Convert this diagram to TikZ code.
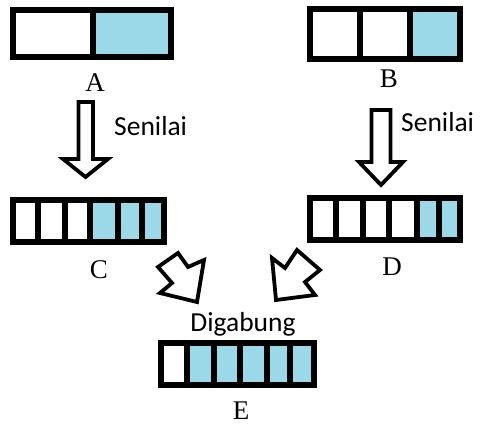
\documentclass[tikz,border=0pt]{standalone}
\usepackage{fontspec}
\setmainfont{Liberation Serif}
\newfontfamily\calib{Carlito}
\definecolor{cellblue}{RGB}{155,216,232}
\begin{document}
\begin{tikzpicture}[x=1pt,y=-1pt,
  barframe/.style={draw=black,line width=6.5pt,fill=none,line join=miter},
  divline/.style={draw=black,line width=5.5pt},
  bluecell/.style={fill=cellblue},
  blockarrow/.style={draw=black,line width=3.8pt,fill=white,line join=miter},
  letter/.style={font=\fontsize{27}{29}\selectfont,inner sep=0pt},
  word/.style={font=\calib\fontsize{27.5}{29}\selectfont,inner sep=0pt,anchor=base west}]
\useasboundingbox (0,0) rectangle (483,425);
% ---------- bar A
\fill[bluecell] (93,10) rectangle (171,57);
\draw[divline] (93,10) -- (93,57);
\node[barframe,minimum width=158pt,minimum height=47pt,inner sep=0pt] (barA) at (92,33.5) {};
\node[letter] (labA) at (95,83) {A};
% ---------- bar B
\fill[bluecell] (410,9) rectangle (460,59);
\draw[divline] (360,9) -- (360,59) (410,9) -- (410,59);
\node[barframe,minimum width=150pt,minimum height=50pt,inner sep=0pt] (barB) at (385,34) {};
\node[letter] (labB) at (389,79) {B};
% ---------- bar C
\fill[bluecell] (90,200) rectangle (164,242);
\draw[divline] (38,200) -- (38,242) (65,200) -- (65,242) (90,200) -- (90,242)
  (118,200) -- (118,242) (142,200) -- (142,242);
\node[barframe,minimum width=151pt,minimum height=42pt,inner sep=0pt] (barC) at (88.5,221) {};
\node[letter] (labC) at (99,270) {C};
% ---------- bar D
\fill[bluecell] (417,198) rectangle (460,240);
\draw[divline] (336,198) -- (336,240) (363,198) -- (363,240) (389,198) -- (389,240)
  (417,198) -- (417,240) (439,198) -- (439,240);
\node[barframe,minimum width=150pt,minimum height=42pt,inner sep=0pt] (barD) at (385,219) {};
\node[letter] (labD) at (392,267) {D};
% ---------- bar E
\fill[bluecell] (187,343) rectangle (314,385);
\draw[divline] (187,343) -- (187,385) (214,343) -- (214,385) (240,343) -- (240,385)
  (267,343) -- (267,385) (290,343) -- (290,385);
\node[barframe,minimum width=153pt,minimum height=42pt,inner sep=0pt] (barE) at (237.5,364) {};
\node[letter] (labE) at (241,411) {E};
% ---------- arrows
\draw[blockarrow] (78.5,102) -- (93,102) -- (93,159) -- (108,159) -- (85.5,177)
  -- (63,159) -- (78.5,159) -- cycle;
\node[word] (senA) at (114,136) {Senilai};
\draw[blockarrow] (371.5,110) -- (390.5,110) -- (390.5,162) -- (403,162) -- (381,185)
  -- (359,162) -- (371.5,162) -- cycle;
\node[word] (senB) at (401,132) {Senilai};
\draw[blockarrow] (158,267) -- (178,253) -- (188,267) -- (204,260) -- (197,302)
  -- (160,293) -- (172,283) -- cycle;
\draw[blockarrow] (297,250) -- (320,270) -- (305,282) -- (315,295) -- (276,300)
  -- (272,258) -- (285,268) -- cycle;
\node[word,anchor=base] (dig) at (243,332) {Digabung};
\end{tikzpicture}
\end{document}
